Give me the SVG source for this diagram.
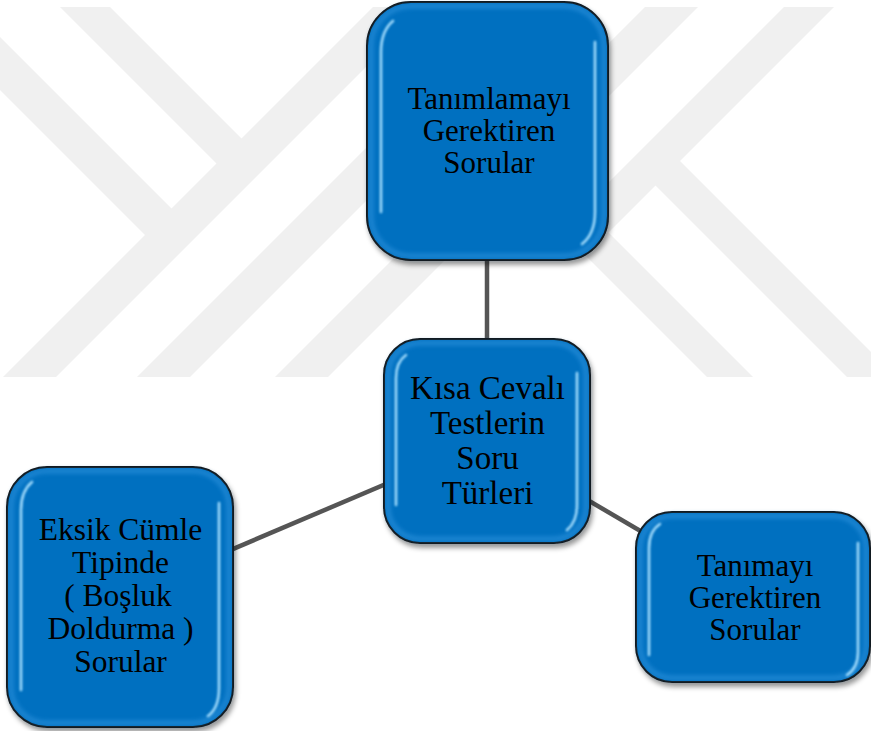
<svg xmlns="http://www.w3.org/2000/svg" width="871" height="731" viewBox="0 0 871 731">
  <defs>
    <filter id="drop" x="-10%" y="-10%" width="125%" height="125%">
      <feGaussianBlur in="SourceAlpha" stdDeviation="2.5"/>
      <feOffset dx="2" dy="4" result="b"/>
      <feFlood flood-color="#000" flood-opacity="0.4"/>
      <feComposite in2="b" operator="in"/>
      <feMerge><feMergeNode/><feMergeNode in="SourceGraphic"/></feMerge>
    </filter>
    <filter id="soft" x="-50%" y="-10%" width="200%" height="120%">
      <feGaussianBlur stdDeviation="0.8"/>
    </filter>
    <filter id="rimblur" x="-10%" y="-10%" width="120%" height="120%">
      <feGaussianBlur stdDeviation="2"/>
    </filter>
  </defs>
  <style>
    .mark { fill: #f0f0f0; }
    .box { fill: #0070c0; stroke: #0a0a0a; stroke-width: 2; }
    .rim { fill: none; stroke: #3a9be4; stroke-width: 5; opacity: 0.5; }
    .gloss { fill: none; stroke: #a8e0ff; stroke-width: 2.6; stroke-linecap: round; opacity: 0.95; }
    .link { stroke: #555555; stroke-width: 4.5; fill: none; }
    .label { font-family: "Liberation Serif", "Times New Roman", serif; fill: #000; text-anchor: middle; }
  </style>

  <rect width="871" height="731" fill="#ffffff"/>

  <!-- background watermark bands -->
  <g id="watermark">
    <polygon class="mark" points="60,7 110,7 254.5,151.5 229.5,176.5"/>
    <polygon class="mark" points="0,37 184.5,221.5 158,248 0,90"/>
    <polygon class="mark" points="373,7 426,7 56,377 3,377"/>
    <polygon class="mark" points="507,7 560,7 190,377 137,377"/>
    <polygon class="mark" points="645,7 698,7 328,377 275,377"/>
    <polygon class="mark" points="784,7 834,7 608.5,232.5 753,377 707,377 560.5,230.5"/>
    <polygon class="mark" points="667.5,148.5 871,352 871,377 847,377 643,173"/>
  </g>

  <!-- connectors, centre to centre -->
  <g id="connectors">
    <line class="link" x1="487" y1="441" x2="487" y2="131"/>
    <line class="link" x1="487" y1="441" x2="120" y2="597"/>
    <line class="link" x1="487" y1="441" x2="753" y2="597"/>
  </g>

  <g id="node-top">
    <rect class="box" x="367" y="2" width="241" height="258" rx="44" filter="url(#drop)"/>
    <rect class="rim" x="371" y="6" width="233" height="250" rx="40" filter="url(#rimblur)"/>
    <path class="gloss" filter="url(#soft)" d="M381,212 V52 Q381,31 393,21"/>
    <path class="gloss" filter="url(#soft)" d="M595,42 V212 Q595,234 582,244"/>
    <text class="label" font-size="31" x="489" y="109">Tanımlamayı</text>
    <text class="label" font-size="31" x="489" y="141">Gerektiren</text>
    <text class="label" font-size="31" x="489" y="173">Sorular</text>
  </g>

  <g id="node-center">
    <rect class="box" x="384" y="339" width="206" height="204" rx="36" filter="url(#drop)"/>
    <rect class="rim" x="388" y="343" width="198" height="196" rx="32" filter="url(#rimblur)"/>
    <path class="gloss" filter="url(#soft)" d="M396,505 V378 Q396,362 406,355"/>
    <path class="gloss" filter="url(#soft)" d="M577,373 V505 Q577,522 567,530"/>
    <text class="label" font-size="33" x="487.5" y="399">Kısa Cevalı</text>
    <text class="label" font-size="33" x="487.5" y="434">Testlerin</text>
    <text class="label" font-size="33" x="487.5" y="469">Soru</text>
    <text class="label" font-size="33" x="487.5" y="504">Türleri</text>
  </g>

  <g id="node-left">
    <rect class="box" x="7" y="467" width="226" height="260" rx="40" filter="url(#drop)"/>
    <rect class="rim" x="11" y="471" width="218" height="252" rx="36" filter="url(#rimblur)"/>
    <path class="gloss" filter="url(#soft)" d="M21,690 V510 Q21,491 32,482"/>
    <path class="gloss" filter="url(#soft)" d="M219,503 V688 Q219,708 208,716"/>
    <text class="label" font-size="31.5" x="120.5" y="540">Eksik Cümle</text>
    <text class="label" font-size="31.5" x="120.5" y="573">Tipinde</text>
    <text class="label" font-size="31.5" x="118" y="606">( Boşluk</text>
    <text class="label" font-size="31.5" x="120.5" y="639">Doldurma )</text>
    <text class="label" font-size="31.5" x="120.5" y="672">Sorular</text>
  </g>

  <g id="node-right">
    <rect class="box" x="636" y="512" width="234" height="170" rx="36" filter="url(#drop)"/>
    <rect class="rim" x="640" y="516" width="226" height="162" rx="32" filter="url(#rimblur)"/>
    <path class="gloss" filter="url(#soft)" d="M649,655 V548 Q649,531 660,524"/>
    <path class="gloss" filter="url(#soft)" d="M858,543 V652 Q858,668 847,675"/>
    <text class="label" font-size="31" x="755" y="576">Tanımayı</text>
    <text class="label" font-size="31" x="755" y="608">Gerektiren</text>
    <text class="label" font-size="31" x="755" y="640">Sorular</text>
  </g>
</svg>
